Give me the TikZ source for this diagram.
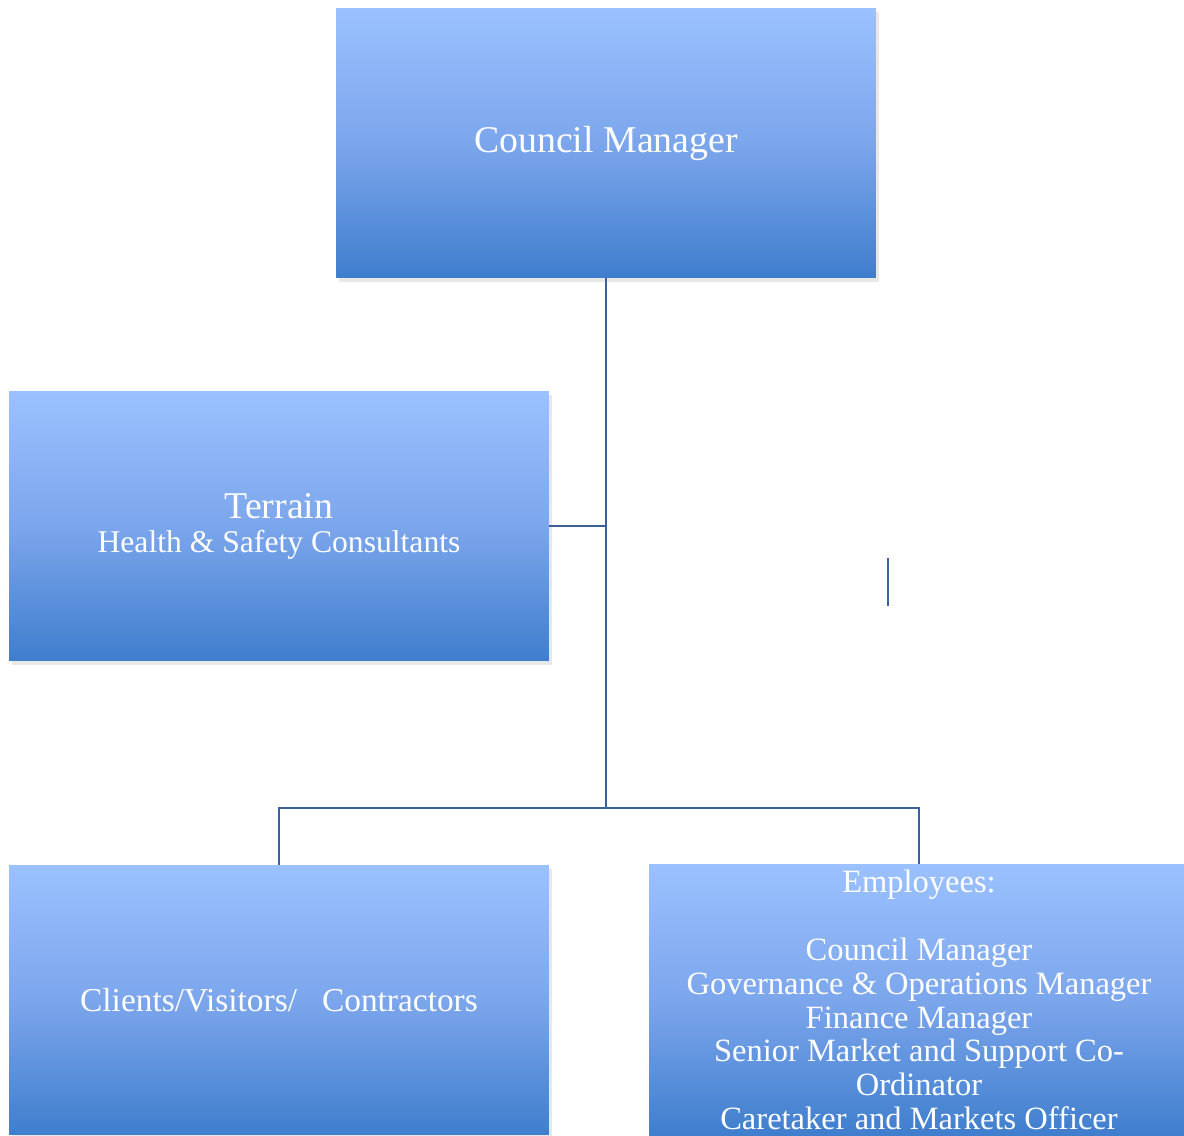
\documentclass[tikz,border=0pt]{standalone}
\usepackage{fontspec}
\setmainfont{Liberation Serif}
\usepackage{xcolor}
\usepackage{tikz}
\usetikzlibrary{shapes,shadows}

\definecolor{boxtop}{RGB}{155,193,255}
\definecolor{boxmid}{RGB}{124,166,236}
\definecolor{boxbot}{RGB}{63,126,205}
\definecolor{linkcol}{RGB}{60,97,150}

\begin{document}
\begin{tikzpicture}[x=0.02cm,y=-0.02cm,
    orgbox/.style={rectangle, minimum width=10.8cm, minimum height=5.4cm,
      top color=boxtop, bottom color=boxbot, middle color=boxmid,
      text=white, align=center,
      drop shadow={opacity=0.18, shadow xshift=1.5pt, shadow yshift=-2.5pt},
      font=\fontsize{18.5}{19.3}\selectfont},
    link/.style={draw=linkcol, line width=1.1pt}]
        \useasboundingbox (0,0) rectangle (1184,1136);
        %\draw[help lines] (0,0) grid (1184,1136);
        \node[orgbox, font=\fontsize{21.5}{24}\selectfont] (mgr) at (606,143) {Council Manager};
        \node[orgbox] (terr) at (279,526) {{\fontsize{21.5}{19.3}\selectfont Terrain}\\{\fontsize{18}{19.3}\selectfont Health \& Safety Consultants}};
        \node[orgbox] (cli) at (279,1000) {\fontsize{19}{19.3}\selectfont Clients/Visitors/\ \ \ Contractors};
        \node[orgbox] (emp) at (919,1000) {Employees:\\[19.3pt]Council Manager\\Governance \& Operations Manager\\Finance Manager\\Senior Market and Support Co-\\Ordinator\\Caretaker and Markets Officer};
        \coordinate (hub) at (606,808);
        \coordinate (s1) at (888,558);
        \coordinate (s2) at (888,606);
        \draw[link] (mgr.south) -- (hub);
        \draw[link] (terr.east) -- (terr.east -| hub);
        \draw[link] (cli.north) |- (hub) -| (emp.north);
        \draw[link] (s1) -- (s2);
    \end{tikzpicture}
\end{document}
